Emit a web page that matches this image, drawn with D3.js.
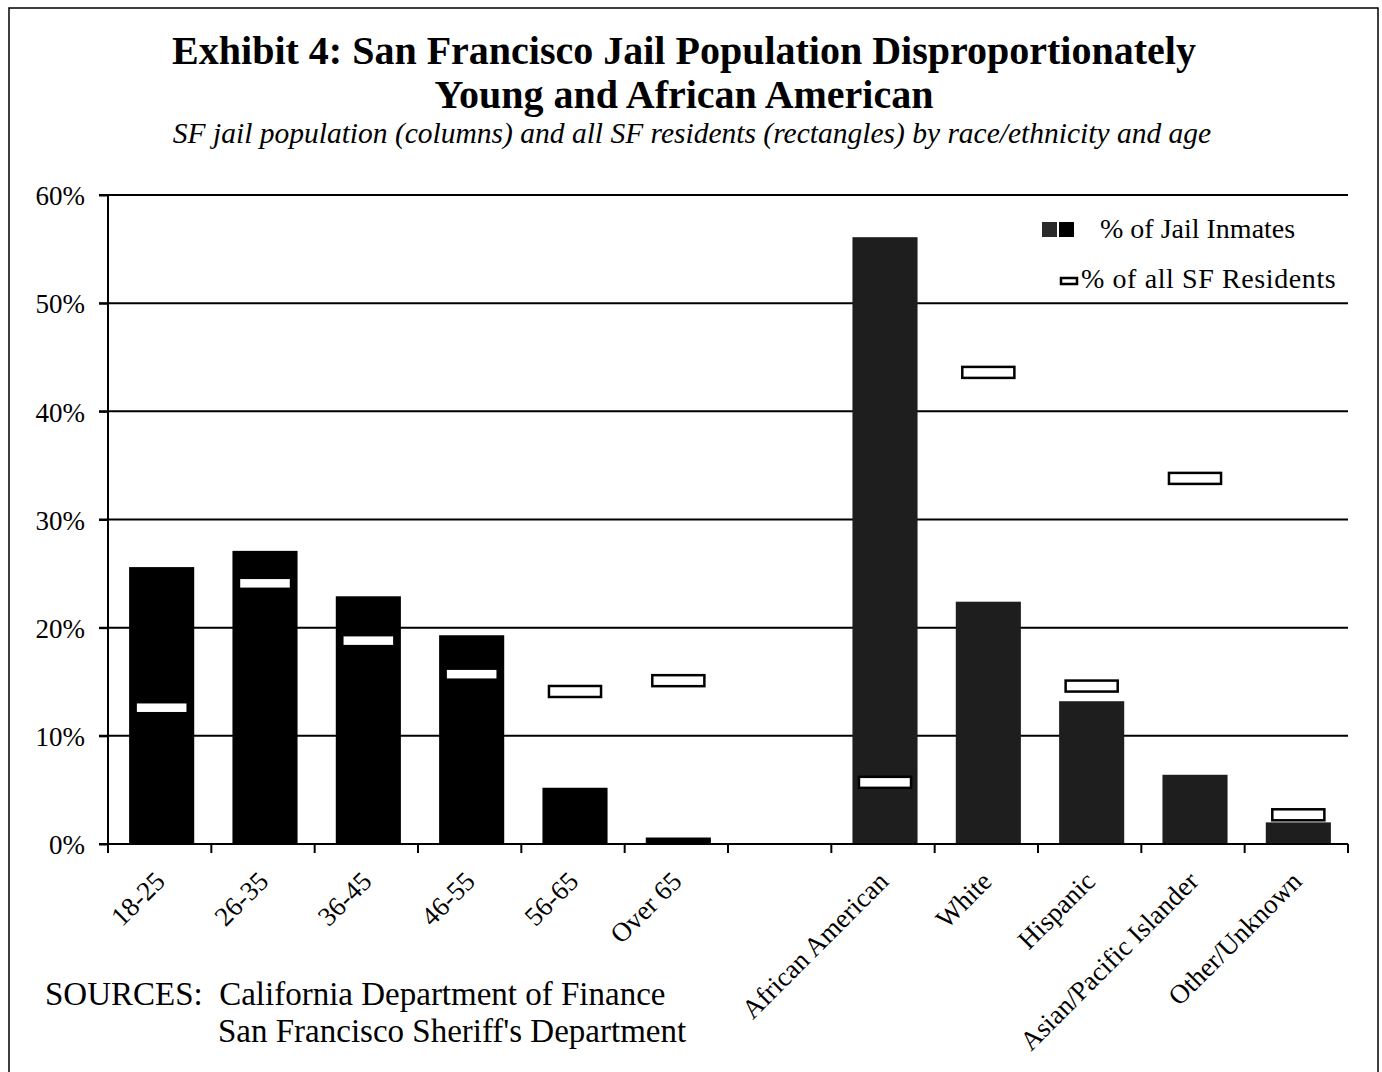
<!DOCTYPE html>
<html>
<head>
<meta charset="utf-8">
<script src="https://cdn.jsdelivr.net/npm/d3@7"></script>
<style>
  body { margin: 0; background: #fff; }
  text { font-family: "Liberation Serif", "Times New Roman", serif; fill: #000; }
</style>
</head>
<body>
<svg width="1382" height="1072"></svg>
<script>
// categories (the empty one is the gap between age and race groups)
const categories = ['18-25', '26-35', '36-45', '46-55', '56-65', 'Over 65', '',
  'African American', 'White', 'Hispanic', 'Asian/Pacific Islander', 'Other/Unknown']
const jailPct = [25.6, 27.1, 22.9, 19.3, 5.2, 0.6, null, 56.1, 22.4, 13.2, 6.4, 2.0]
const residentPct = [12.6, 24.1, 18.8, 15.7, 14.1, 15.1, null, 5.7, 43.6, 14.6, 33.8, 2.7]
const raceStart = 7
const yTicks = [0, 10, 20, 30, 40, 50, 60]

const svg = d3.select('svg')
const width = +svg.attr('width')
const height = +svg.attr('height')

const plotLeft = 108, plotRight = 1348, plotTop = 195, plotBottom = 844

// frame
svg.append('rect')
  .attr('x', 9).attr('y', 8)
  .attr('width', 1369).attr('height', height + 10)
  .attr('fill', 'none').attr('stroke', '#000').attr('stroke-width', 1.5)

// title
svg.append('text')
  .attr('x', 684).attr('y', 64)
  .attr('text-anchor', 'middle')
  .attr('font-weight', 'bold').attr('font-size', 40)
  .text('Exhibit 4: San Francisco Jail Population Disproportionately')
svg.append('text')
  .attr('x', 684).attr('y', 108)
  .attr('text-anchor', 'middle')
  .attr('font-weight', 'bold').attr('font-size', 40)
  .text('Young and African American')
svg.append('text')
  .attr('x', 692).attr('y', 143)
  .attr('text-anchor', 'middle')
  .attr('font-style', 'italic').attr('font-size', 29.5)
  .text('SF jail population (columns) and all SF residents (rectangles) by race/ethnicity and age')

const x = d3.scaleBand()
  .domain(categories)
  .range([plotLeft, plotRight])
  .paddingInner(0.37)
  .paddingOuter(0.185)

const y = d3.scaleLinear()
  .domain([0, 60])
  .range([plotBottom, plotTop])

// gridlines
svg.append('g')
  .selectAll('line')
  .data(yTicks.slice(1))
  .join('line')
    .attr('x1', plotLeft - 9).attr('x2', plotRight)
    .attr('y1', d => y(d)).attr('y2', d => y(d))
    .attr('stroke', '#000').attr('stroke-width', 2)

// y axis
const yAxis = svg.append('g')
  .attr('transform', `translate(${plotLeft}, 0)`)
  .call(d3.axisLeft(y).tickValues(yTicks).tickFormat(d => d + '%').tickSize(9).tickPadding(14))
yAxis.select('.domain').attr('stroke-width', 2).attr('d', `M0,${plotTop}V${plotBottom + 8}`)
yAxis.selectAll('.tick line').attr('stroke-width', 2)
yAxis.selectAll('.tick text')
  .attr('font-size', 27)
  .attr('font-family', '"Liberation Serif", "Times New Roman", serif')
  .attr('dy', '0.36em')

// jail bars
svg.append('g')
  .selectAll('rect')
  .data(categories.map((c, i) => ({c, v: jailPct[i], i})).filter(d => d.v != null))
  .join('rect')
    .attr('x', d => x(d.c) + 2)
    .attr('y', d => y(d.v))
    .attr('width', x.bandwidth())
    .attr('height', d => y(0) - y(d.v))
    .attr('fill', d => d.i >= raceStart ? '#1e1e1e' : '#000')

// resident rectangles
const mw = x.bandwidth() * 0.8, mh = 11
svg.append('g')
  .selectAll('rect')
  .data(categories.map((c, i) => ({c, v: residentPct[i]})).filter(d => d.v != null))
  .join('rect')
    .attr('x', d => x(d.c) + 2 + (x.bandwidth() - mw) / 2)
    .attr('y', d => y(d.v) - mh / 2)
    .attr('width', mw)
    .attr('height', mh)
    .attr('fill', '#fff')
    .attr('stroke', '#000')
    .attr('stroke-width', 2.5)

// x axis line + ticks at band edges
const step = x.step()
svg.append('line')
  .attr('x1', plotLeft - 9).attr('x2', plotRight)
  .attr('y1', plotBottom).attr('y2', plotBottom)
  .attr('stroke', '#000').attr('stroke-width', 2)
svg.append('g')
  .selectAll('line')
  .data(d3.range(categories.length + 1))
  .join('line')
    .attr('x1', i => plotLeft + i * step).attr('x2', i => plotLeft + i * step)
    .attr('y1', plotBottom).attr('y2', plotBottom + 9)
    .attr('stroke', '#000').attr('stroke-width', 2)

// x labels, rotated
svg.append('g')
  .selectAll('text')
  .data(categories.filter(c => c !== ''))
  .join('text')
    .attr('transform', d => `translate(${x(d) + x.bandwidth() / 2 + 7}, 883) rotate(-45)`)
    .attr('text-anchor', 'end')
    .attr('font-size', 27)
    .text(d => d)

// legend
const lg = svg.append('g')
lg.append('rect').attr('x', 1042).attr('y', 222).attr('width', 15).attr('height', 15).attr('fill', '#2a2a2a')
lg.append('rect').attr('x', 1059).attr('y', 222).attr('width', 15).attr('height', 15).attr('fill', '#000')
lg.append('text').attr('x', 1100).attr('y', 238).attr('font-size', 28).text('% of Jail Inmates')
lg.append('rect').attr('x', 1061).attr('y', 278).attr('width', 16).attr('height', 6)
  .attr('fill', '#fff').attr('stroke', '#000').attr('stroke-width', 2.5)
lg.append('text').attr('x', 1081).attr('y', 288).attr('font-size', 28)
  .attr('letter-spacing', 0.6).text('% of all SF Residents')

// sources
svg.append('text')
  .attr('x', 45).attr('y', 1005)
  .attr('font-size', 33)
  .attr('xml:space', 'preserve')
  .text('SOURCES:  California Department of Finance')
svg.append('text')
  .attr('x', 218).attr('y', 1042)
  .attr('font-size', 33)
  .text("San Francisco Sheriff's Department")
</script>
</body>
</html>
